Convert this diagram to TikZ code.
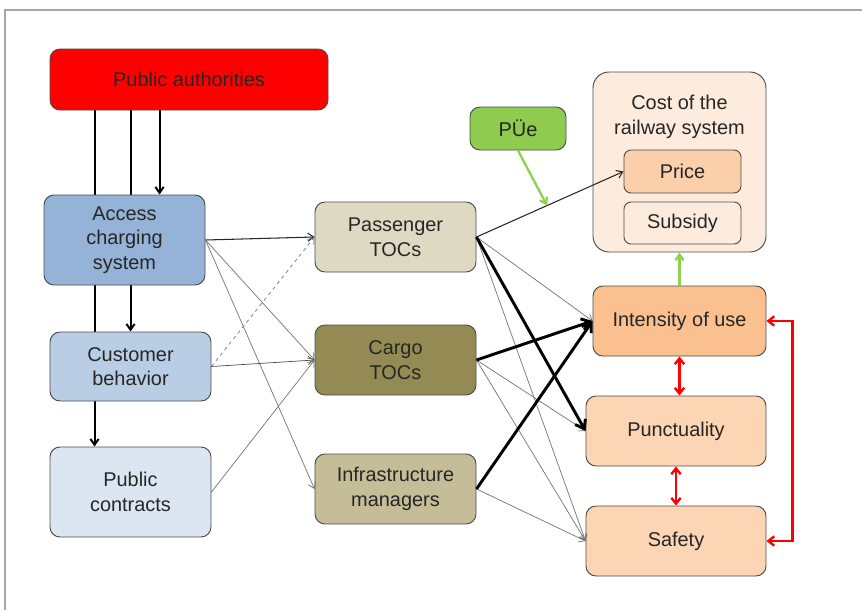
\documentclass[tikz,border=0pt]{standalone}
\usepackage{fontspec}
\setmainfont{Liberation Sans}
\usetikzlibrary{arrows.meta,calc,backgrounds}

\newlength\px
\setlength\px{0.03cm}

\begin{document}
\begin{tikzpicture}[x=0.03cm,y=-0.03cm,
  box/.style={draw=black!70,line width=0.8pt,rounded corners=10\px,align=center,
    text=black!85,inner sep=0pt,font=\fontsize{17}{21}\selectfont},
  barb/.style={-{Straight Barb[length=5pt,width=7pt]}},
  thin_link/.style={barb,draw=black!55,line width=0.6pt},
  main_link/.style={barb,draw=black!85,line width=0.9pt},
  thick_link/.style={-{Straight Barb[length=7pt,width=10pt]},draw=black,line width=2.5pt},
  down_link/.style={barb,draw=black,line width=1.7pt},
  green_link/.style={barb,draw=green_arrow,line width=2pt},
  red_link/.style={{Straight Barb[length=5pt,width=8pt]}-{Straight Barb[length=5pt,width=8pt]},draw=red,line width=2pt}]
%\draw[gray] (0,0) grid[step=50] (862,610);

\definecolor{pa_fill}{HTML}{FF0000}
\definecolor{acs_fill}{HTML}{95B3D7}
\definecolor{cbh_fill}{HTML}{B9CDE5}
\definecolor{pcon_fill}{HTML}{DCE6F2}
\definecolor{ptoc_fill}{HTML}{DDD9C3}
\definecolor{ctoc_fill}{HTML}{948A54}
\definecolor{infra_fill}{HTML}{C4BD97}
\definecolor{pue_fill}{HTML}{8FCB4F}
\definecolor{cost_fill}{HTML}{FDEBDD}
\definecolor{price_fill}{HTML}{FBCFAA}
\definecolor{intensity_fill}{HTML}{FAC090}
\definecolor{quality_fill}{HTML}{FCD5B5}
\definecolor{green_arrow}{HTML}{92D050}

\useasboundingbox (0,0) rectangle (862,610);
\draw[gray!70,line width=1.2pt] (5,610) -- (5,10) -- (862,10);

% left column
\node[box,fill=pa_fill,minimum width=278\px,minimum height=61\px] (pa) at (189,79.5) {Public authorities};
\node[box,fill=acs_fill,minimum width=161\px,minimum height=90\px] (acs) at (124.5,240) {Access\\charging\\system};
\node[box,fill=cbh_fill,minimum width=161\px,minimum height=69\px] (cbh) at (130.5,366.5) {Customer\\behavior};
\node[box,fill=pcon_fill,minimum width=161\px,minimum height=90\px] (pcon) at (130.5,492) {Public\\contracts};

% operators
\node[box,fill=ptoc_fill,minimum width=161\px,minimum height=70\px] (ptoc) at (395.5,237) {Passenger\\TOCs};
\node[box,fill=ctoc_fill,minimum width=161\px,minimum height=70\px] (ctoc) at (395.5,360) {Cargo\\TOCs};
\node[box,fill=infra_fill,minimum width=161\px,minimum height=70\px] (infra) at (395.5,489) {Infrastructure\\managers};

% right column
\node[box,fill=pue_fill,minimum width=96\px,minimum height=43\px] (pue) at (518,128.5) {PÜe};
\node[box,fill=cost_fill,minimum width=173\px,minimum height=180\px,rounded corners=16\px] (cost) at (679.5,162) {};
\node[align=center,text=black!85,font=\fontsize{17}{21}\selectfont] (costlbl) at (679.5,117) {Cost of the\\railway system};
\node[box,fill=price_fill,minimum width=117\px,minimum height=43\px,rounded corners=7\px] (price) at (682.5,171.5) {Price};
\node[box,fill=cost_fill,minimum width=117\px,minimum height=42\px,rounded corners=7\px] (subsidy) at (682.5,223) {Subsidy};
\node[box,fill=intensity_fill,minimum width=173\px,minimum height=70\px] (intensity) at (679.5,321) {Intensity of use};
\node[box,fill=quality_fill,minimum width=180\px,minimum height=70\px] (punct) at (676,431) {Punctuality};
\node[box,fill=quality_fill,minimum width=180\px,minimum height=70\px] (safety) at (676,541) {Safety};

% authorities feed down behind the boxes
\begin{scope}[on background layer]
\coordinate (pa1) at ($(pa.south west)+(45,0)$);
\coordinate (pa2) at ($(pa.south west)+(81,0)$);
\coordinate (pa3) at ($(pa.south west)+(110,0)$);
\draw[down_link] (pa1) -- (pa1 |- pcon.north);
\draw[down_link] (pa2) -- (pa2 |- cbh.north);
\draw[down_link] (pa3) -- (pa3 |- acs.north);
\end{scope}

% left to operators
\draw[main_link] (acs.east) -- (ptoc.west);
\foreach \b in {ctoc,infra}{
\draw[thin_link] (acs.east) -- (\b.west);
}
\draw[thin_link,dashed] (cbh.east) -- (ptoc.west);
\draw[thin_link,draw=black!70] (cbh.east) -- (ctoc.west);
\draw[thin_link] (pcon.east) -- (ctoc.west);

% operators to outcomes
\draw[main_link] (ptoc.east) -- (price.west);
\foreach \a/\b in {ptoc/intensity,ptoc/safety,ctoc/punct,ctoc/safety,infra/safety}{
\draw[thin_link] (\a.east) -- (\b.west);
}
\foreach \a/\b in {ptoc/punct,ctoc/intensity,infra/intensity}{
\draw[thick_link] (\a.east) -- (\b.west);
}

% green and red links
\coordinate (pue_hit) at ($(ptoc.east)!0.48!(price.west)$);
\draw[green_link] (pue.south) -- (pue_hit);
\draw[green_link] (intensity.north) -- (intensity.north |- cost.south);
\draw[red_link] (intensity.south) -- (intensity.south |- punct.north);
\draw[red_link] (punct.south) -- (punct.south |- safety.north);
\draw[red_link] (intensity.east) -- ++(26,0) |- (safety.east);

\end{tikzpicture}
\end{document}
